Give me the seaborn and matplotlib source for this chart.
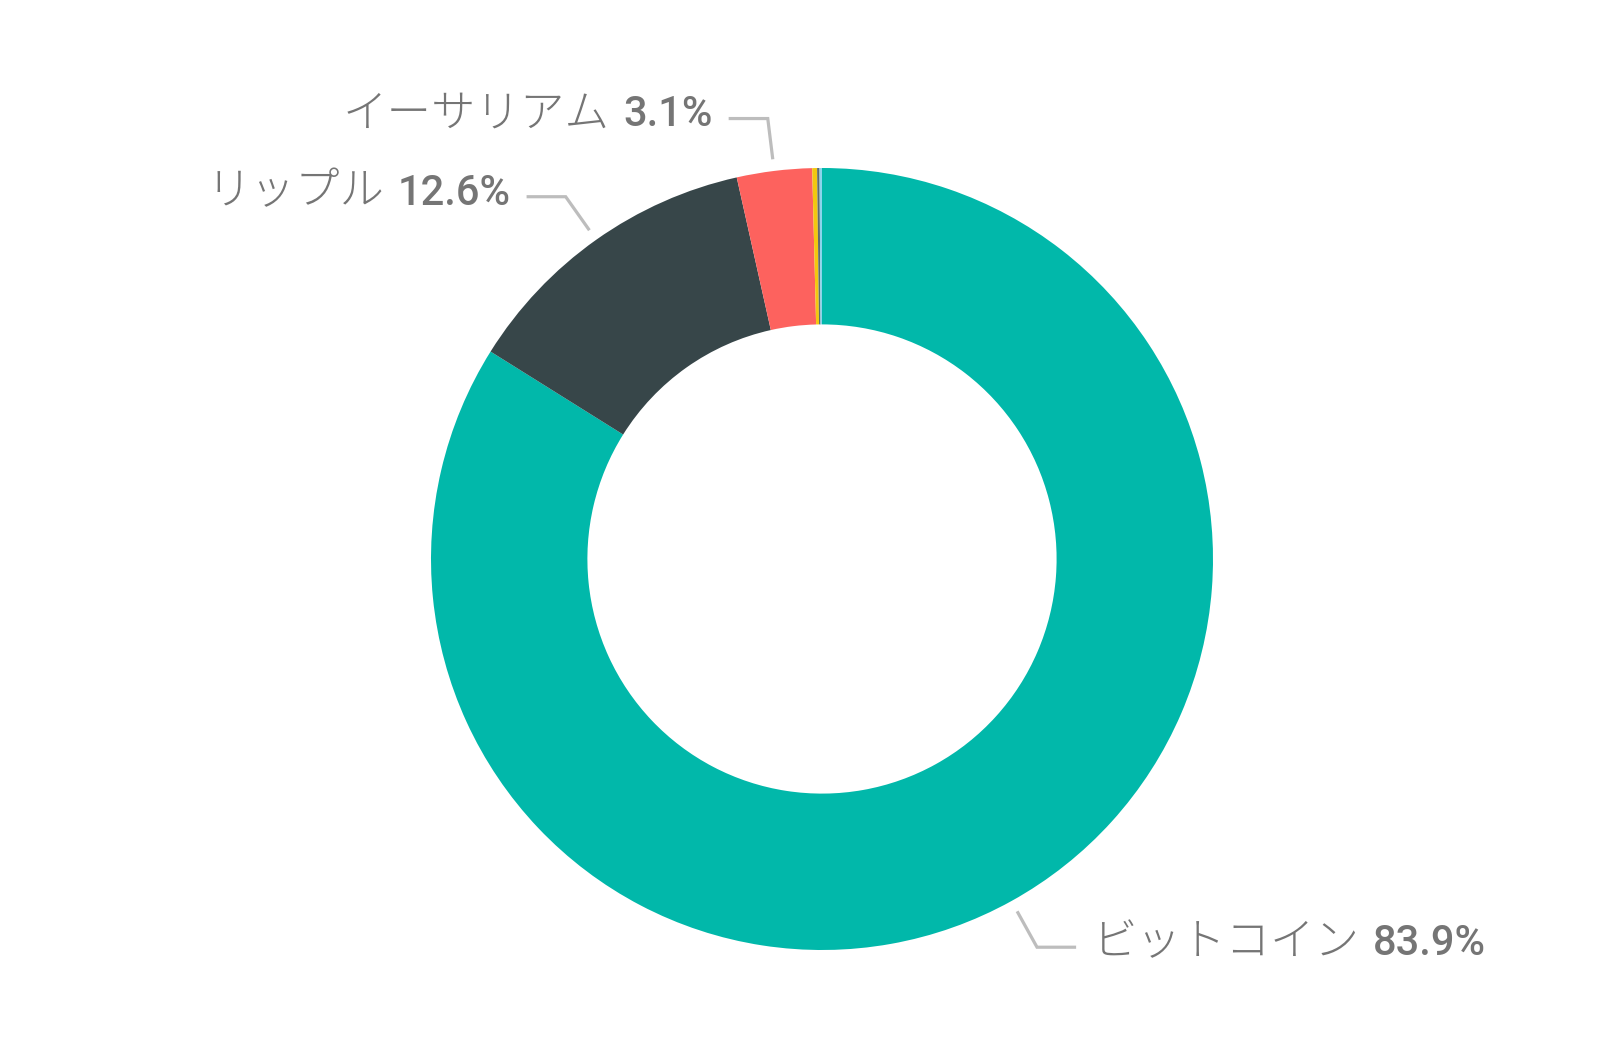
import numpy as np
import matplotlib
matplotlib.use("Agg")
import matplotlib.pyplot as plt
import seaborn as sns
from matplotlib.offsetbox import TextArea, HPacker, AnnotationBbox

# ---- data ----
names = ["ビットコイン", "リップル", "イーサリアム", "ライトコイン", "ビットコインキャッシュ", "その他"]
shares = [83.9, 12.6, 3.1, 0.2, 0.1, 0.1]
pct_labels = ["83.9%", "12.6%", "3.1%", "", "", ""]
colors = ["#01B8AA", "#374649", "#FD625E", "#F2C80F", "#5F6B6D", "#8AD4EB"]

sns.set_theme(style="white")
plt.rcParams['font.family'] = ['Noto Sans CJK JP', 'DejaVu Sans']

palette = sns.color_palette(colors)

fig = plt.figure(figsize=(16.22, 10.44), dpi=100)
ax = fig.add_axes([0, 0, 1, 1])
wedges, _ = ax.pie(shares, colors=palette, startangle=90, counterclock=False,
                   radius=1.0, wedgeprops=dict(width=0.4, linewidth=0))

R = 391.0
ax.set_xlim(-822 / R, (1622 - 822) / R)
ax.set_ylim(-(1044 - 559) / R, 559 / R)
ax.set_aspect('equal')
ax.axis('off')

text_color = "#757575"
line_color = "#BDBDBD"

for w, name, pct in zip(wedges, names, pct_labels):
    if not pct:
        continue
    mid = np.deg2rad((w.theta1 + w.theta2) / 2.0)
    x0, y0 = 1.03 * np.cos(mid), 1.03 * np.sin(mid)
    x1, y1 = 1.135 * np.cos(mid), 1.135 * np.sin(mid)
    side = 1 if np.cos(mid) >= 0 else -1
    x2 = x1 + side * 0.10
    ax.plot([x0, x1, x2], [y0, y1, y1], color=line_color, lw=2.3,
            solid_capstyle='butt', solid_joinstyle='miter', zorder=3)
    t_name = TextArea(name, textprops=dict(color=text_color, fontsize=32,
                                           family=['Noto Sans CJK JP', 'DejaVu Sans'],
                                           fontweight='light'))
    t_pct = TextArea(pct, textprops=dict(color=text_color, fontsize=30,
                                         family=['Roboto', 'DejaVu Sans'],
                                         fontweight='medium'))
    box = HPacker(children=[t_name, t_pct], align="baseline", pad=0, sep=10)
    xt = x2 + side * 0.04
    ab = AnnotationBbox(box, (xt, y1 + 0.012), frameon=False, pad=0,
                        box_alignment=(0 if side > 0 else 1, 0.5))
    ax.add_artist(ab)

fig.savefig("out.png", dpi=100, facecolor="white")
